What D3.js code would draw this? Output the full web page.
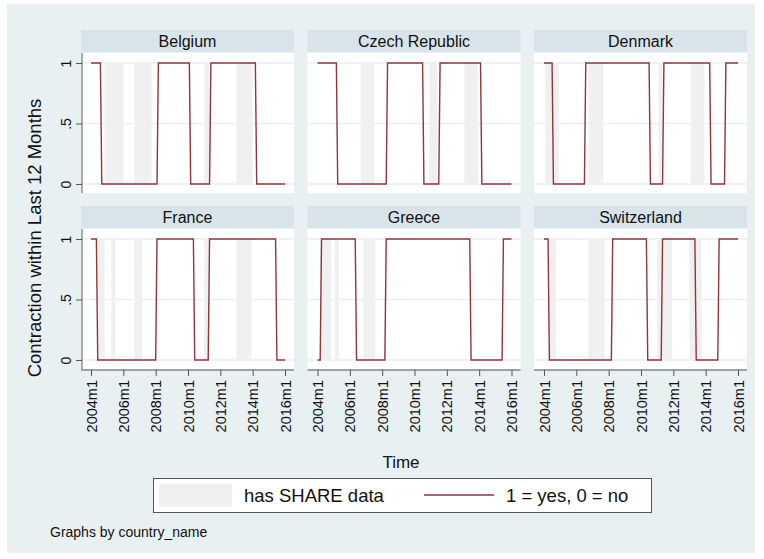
<!DOCTYPE html>
<html><head><meta charset="utf-8">
<script src="https://cdn.jsdelivr.net/npm/d3@7"></script>
<style>body{margin:0;background:#fff;} text{font-family:"Liberation Sans",Arial,Helvetica,sans-serif;}</style>
</head><body>
<script>
// ---------- data ----------
const countries = ["Belgium", "Czech Republic", "Denmark", "France", "Greece", "Switzerland"];
const xTickLabels = ["2004m1", "2006m1", "2008m1", "2010m1", "2012m1", "2014m1", "2016m1"];
const yTickValues = [0, 0.5, 1];
const yTickLabels = ["0", ".5", "1"];

// contraction within last 12 months (1 = yes, 0 = no): [month, value] at change points
const contractionBelgium = [["2004m1",1],["2004m8",1],["2004m9",0],["2008m2",0],["2008m3",1],["2010m2",1],["2010m3",0],["2011m5",0],["2011m6",1],["2014m3",1],["2014m4",0],["2016m1",0]];
const contractionCzech = [["2004m1",1],["2005m3",1],["2005m4",0],["2008m4",0],["2008m5",1],["2010m7",1],["2010m8",0],["2011m7",0],["2011m8",1],["2014m2",1],["2014m3",0],["2016m1",0]];
const contractionDenmark = [["2004m1",1],["2004m7",1],["2004m8",0],["2006m7",0],["2006m8",1],["2010m7",1],["2010m8",0],["2011m5",0],["2011m6",1],["2014m4",1],["2014m5",0],["2015m3",0],["2015m4",1],["2016m1",1]];
const contractionFrance = [["2004m1",1],["2004m5",1],["2004m6",0],["2008m1",0],["2008m2",1],["2010m5",1],["2010m6",0],["2011m4",0],["2011m5",1],["2015m6",1],["2015m7",0],["2016m1",0]];
const contractionGreece = [["2004m1",0],["2004m3",0],["2004m4",1],["2006m5",1],["2006m6",0],["2008m3",0],["2008m4",1],["2013m6",1],["2013m7",0],["2015m6",0],["2015m7",1],["2016m1",1]];
const contractionSwitzerland = [["2004m1",1],["2004m4",1],["2004m5",0],["2008m3",0],["2008m4",1],["2010m5",1],["2010m6",0],["2011m4",0],["2011m5",1],["2013m5",1],["2013m6",0],["2014m10",0],["2014m11",1],["2016m1",1]];

// has SHARE data: [start month, end month)
const shareBelgium = [["2004m11","2006m1"],["2006m9","2007m10"],["2011m1","2011m5"],["2013m1","2014m1"]];
const shareCzech = [["2006m9","2007m7"],["2010m12","2011m6"],["2013m2","2013m12"]];
const shareDenmark = [["2004m2","2004m12"],["2006m10","2007m9"],["2011m2","2011m5"],["2013m2","2013m12"]];
const shareFrance = [["2004m6","2004m11"],["2005m4","2005m7"],["2006m9","2007m3"],["2011m1","2011m5"],["2013m1","2013m12"]];
const shareGreece = [["2004m3","2004m11"],["2005m2","2005m5"],["2006m11","2007m8"]];
const shareSwitzerland = [["2004m5","2004m10"],["2006m10","2007m10"],["2011m1","2011m12"],["2013m1","2013m10"]];

const contraction = [contractionBelgium, contractionCzech, contractionDenmark, contractionFrance, contractionGreece, contractionSwitzerland];
const share = [shareBelgium, shareCzech, shareDenmark, shareFrance, shareGreece, shareSwitzerland];

// ---------- helpers ----------
function monthIndex(s) { const [y, m] = s.split("m").map(Number); return (y - 2004) * 12 + (m - 1); }

const W = 764, H = 559;
const svg = d3.select("body").append("svg").attr("width", W).attr("height", H);
const LINE = "#90353b", BAND = "#f0f0f0", GRID = "#e9f1f3", STRIP = "#d8e4ea", OUTER = "#e9f0f2", AXIS = "#555";

svg.append("rect").attr("x", 7).attr("y", 4).attr("width", 748).attr("height", 549).attr("fill", OUTER);

const colLeft = [81, 307.5, 534], panelW = 213;
const rowTop = [30, 206], stripH = 22, plotH = 140;

countries.forEach((name, i) => {
  const c = i % 3, r = Math.floor(i / 3);
  const left = colLeft[c], top = rowTop[r];
  const pTop = top + stripH + 1;
  const x = d3.scaleLinear().domain([0, 144]).range([left + 10, left + 204]);
  const y = d3.scaleLinear().domain([0, 1]).range([pTop + 131, pTop + 10]);
  const g = svg.append("g");

  // strip
  g.append("rect").attr("x", left).attr("y", top).attr("width", panelW).attr("height", stripH).attr("fill", STRIP);
  g.append("text").attr("x", left + panelW / 2).attr("y", top + 17).attr("text-anchor", "middle")
    .attr("font-size", 16).attr("fill", "#111").text(name);

  // plot region
  g.append("rect").attr("x", left).attr("y", pTop).attr("width", panelW).attr("height", plotH).attr("fill", "#fff");
  g.selectAll(".grid").data(yTickValues).enter().append("line")
    .attr("x1", left).attr("x2", left + panelW).attr("y1", d => y(d)).attr("y2", d => y(d))
    .attr("stroke", GRID).attr("stroke-width", 1.5);

  // SHARE bands
  g.selectAll(".band").data(share[i]).enter().append("rect")
    .attr("x", d => x(monthIndex(d[0]))).attr("width", d => x(monthIndex(d[1])) - x(monthIndex(d[0])))
    .attr("y", y(1)).attr("height", y(0) - y(1)).attr("fill", BAND);

  // contraction line
  const line = d3.line().x(d => x(monthIndex(d[0]))).y(d => y(d[1]));
  g.append("path").datum(contraction[i]).attr("d", line).attr("fill", "none")
    .attr("stroke", LINE).attr("stroke-width", 1.4);

  // y axis on first column
  if (c === 0) {
    const ya = g.append("g").attr("transform", `translate(${left + 1},0)`)
      .call(d3.axisLeft(y).tickValues(yTickValues).tickFormat((d, k) => yTickLabels[k]).tickSize(6).tickSizeOuter(0));
    ya.select(".domain").attr("stroke", AXIS).attr("d", `M0,${pTop}V${pTop + plotH}`);
    ya.selectAll(".tick line").attr("stroke", AXIS);
    ya.selectAll(".tick text").attr("x", 0).attr("y", -11).attr("dy", 0)
      .attr("transform", "rotate(-90)").attr("text-anchor", "middle")
      .attr("font-size", 14).attr("font-family", "Liberation Sans, Arial, sans-serif").attr("fill", "#111");
  }
  // x axis on bottom row
  if (r === 1) {
    const xa = g.append("g").attr("transform", `translate(0,${pTop + plotH + 1})`)
      .call(d3.axisBottom(x).tickValues(xTickLabels.map(monthIndex)).tickFormat((d, k) => xTickLabels[k]).tickSize(6).tickSizeOuter(0));
    xa.select(".domain").attr("stroke", AXIS).attr("d", `M${left},0H${left + panelW}`);
    xa.selectAll(".tick line").attr("stroke", AXIS);
    xa.selectAll(".tick text").attr("x", -10).attr("y", 0).attr("dy", "0.35em")
      .attr("transform", "rotate(-90)").attr("text-anchor", "end")
      .attr("font-size", 14.5).attr("font-family", "Liberation Sans, Arial, sans-serif").attr("fill", "#111");
  }
});

// axis titles
svg.append("text").attr("transform", "translate(41,238) rotate(-90)").attr("text-anchor", "middle")
  .attr("font-size", 18.5).attr("fill", "#111").text("Contraction within Last 12 Months");
svg.append("text").attr("x", 401).attr("y", 468).attr("text-anchor", "middle")
  .attr("font-size", 17).attr("fill", "#111").text("Time");

// legend
const lg = svg.append("g");
lg.append("rect").attr("x", 153.5).attr("y", 478.5).attr("width", 498).attr("height", 34).attr("fill", "#fff").attr("stroke", "#555");
lg.append("rect").attr("x", 159).attr("y", 484).attr("width", 73).attr("height", 23).attr("fill", BAND);
lg.append("text").attr("x", 244).attr("y", 502).attr("font-size", 18.5).attr("fill", "#111").text("has SHARE data");
lg.append("line").attr("x1", 424).attr("x2", 494).attr("y1", 495).attr("y2", 495).attr("stroke", LINE).attr("stroke-width", 1.4);
lg.append("text").attr("x", 506).attr("y", 502).attr("font-size", 18.5).attr("fill", "#111").text("1 = yes, 0 = no");

svg.append("text").attr("x", 50).attr("y", 537).attr("font-size", 14).attr("fill", "#111").text("Graphs by country_name");
</script>
</body></html>
